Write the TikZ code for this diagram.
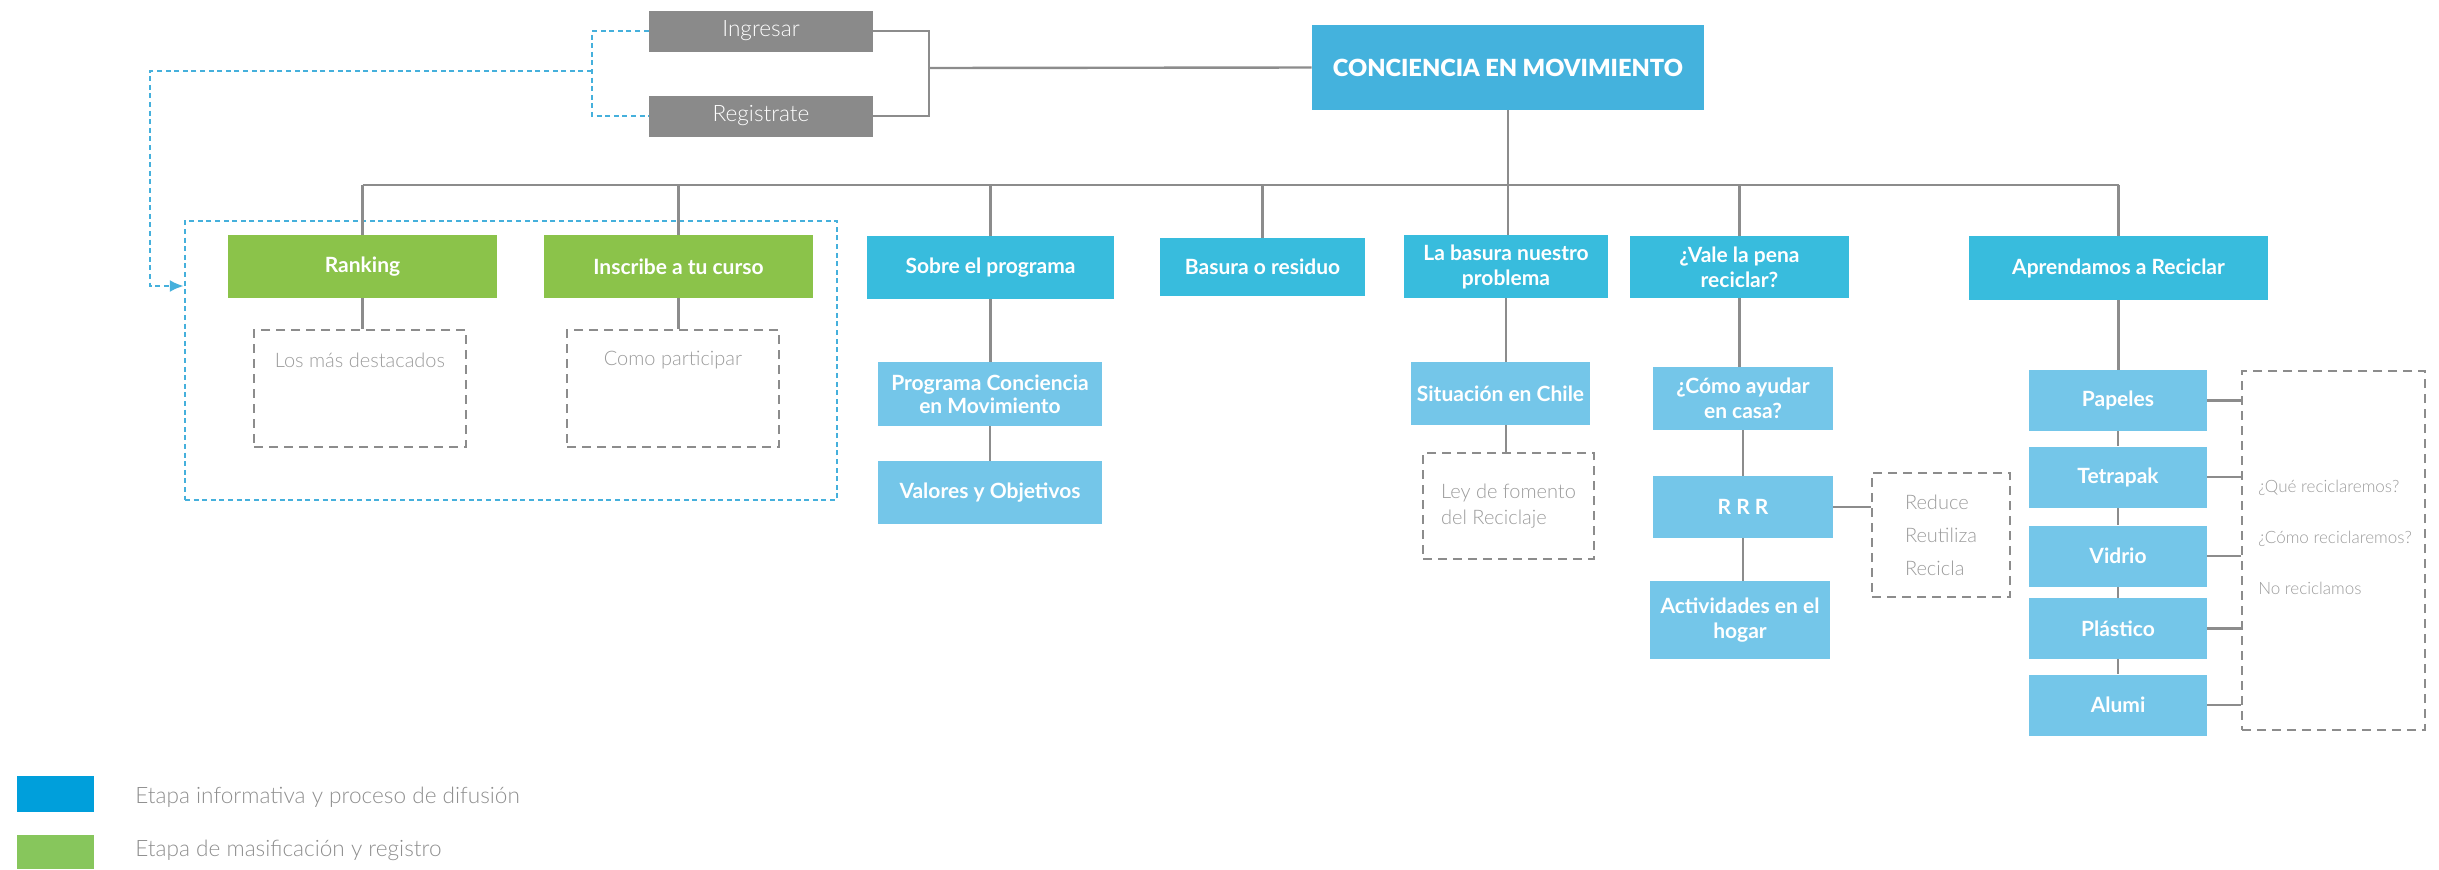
\documentclass[tikz,border=0pt]{standalone}
\usepackage{fontspec}
\setmainfont{Lato}
\newfontfamily\lightfont{Lato Light}
\newfontfamily\blackfont{Lato Black}
\usetikzlibrary{arrows.meta}
\definecolor{topblue}{HTML}{44B2DD}
\definecolor{midblue}{HTML}{38BCDD}
\definecolor{lightblue}{HTML}{74C6E9}
\definecolor{boxgreen}{HTML}{8BC34A}
\definecolor{boxgray}{HTML}{8A8A8A}
\definecolor{linegray}{HTML}{8C8C8C}
\definecolor{dashgray}{HTML}{8C8C8C}
\definecolor{dashblue}{HTML}{45B0DC}
\definecolor{txtgray}{HTML}{9B9B9B}
\definecolor{legtxt}{HTML}{8E8E8E}
\definecolor{legblue}{HTML}{009FDB}
\definecolor{leggreen}{HTML}{87C65C}
\begin{document}
\begin{tikzpicture}[x=0.5pt,y=-0.5pt,
  conn/.style={draw=linegray,line width=1.2pt},
  boxbase/.style={rectangle,inner sep=0pt,text=white,align=center,font=\bfseries\fontsize{10.5}{12.5}\selectfont},
  mainbox/.style={boxbase,fill=midblue},
  subbox/.style={boxbase,fill=lightblue},
  greenbox/.style={boxbase,fill=boxgreen,minimum width=134.5pt,minimum height=31.5pt},
  graybox/.style={rectangle,inner sep=0pt,fill=boxgray,text=white,font=\lightfont\fontsize{11.3}{13}\selectfont,minimum width=112pt,minimum height=20.5pt},
  dashbox/.style={rectangle,draw=dashgray,line width=1pt,dash pattern=on 4.5pt off 3pt,inner sep=0pt,text=txtgray,align=left,font=\lightfont\fontsize{10}{13}\selectfont},
  bluedash/.style={draw=dashblue,line width=1.2pt,dash pattern=on 2.5pt off 1.8pt},
  graytext/.style={text=txtgray,font=\lightfont\fontsize{10}{12}\selectfont,inner sep=0pt,align=left},
  matbox/.style={subbox,minimum width=89pt,minimum height=30.5pt},
]
\useasboundingbox (0,0) rectangle (2439,869);

% top level
\node[graybox] (ingresar) at (761,31) {Ingresar};
\node[graybox] (registrate) at (761,116) {Registrate};
\node[boxbase,fill=topblue,minimum width=196pt,minimum height=42.5pt,font=\blackfont\fontsize{11.8}{13}\selectfont] (conciencia) at (1508,67.5) {CONCIENCIA EN MOVIMIENTO};

% level 2
\node[greenbox] (ranking) at (362.5,266.5) {Ranking};
\node[greenbox] (inscribe) at (678.5,266.5) {Inscribe a tu curso};
\node[mainbox,minimum width=123.5pt,minimum height=31.5pt] (sobre) at (990.5,267.5) {Sobre el programa};
\node[mainbox,minimum width=102.5pt,minimum height=29pt] (basura) at (1262.5,267) {Basura o residuo};
\node[mainbox,minimum width=102pt,minimum height=31.5pt] (labasura) at (1506,266.5) {La basura nuestro\\problema};
\node[mainbox,minimum width=109.5pt,minimum height=31pt] (vale) at (1739.5,267) {¿Vale la pena\\reciclar?};
\node[mainbox,minimum width=149.5pt,minimum height=32pt] (aprendamos) at (2118.5,268) {Aprendamos a Reciclar};

% green children
\node[dashbox,minimum width=106pt,minimum height=58.5pt] (los) at (360,388.5) {};
\node[graytext] (lostxt) at (360,360) {Los más destacados};
\node[dashbox,minimum width=106pt,minimum height=58.5pt] (como) at (673,388.5) {};
\node[graytext] (comotxt) at (673,360) {Como participar};
\node[bluedash,rectangle,minimum width=326pt,minimum height=139.5pt,inner sep=0pt] (bluebox) at (511,360.5) {};

% sobre children
\node[subbox,minimum width=112pt,minimum height=32pt,font=\bfseries\fontsize{10.5}{11.5}\selectfont] (programa) at (990,394) {Programa Conciencia\\en Movimiento};
\node[subbox,minimum width=112pt,minimum height=31.5pt] (valores) at (990,492.5) {Valores y Objetivos};

% la basura children
\node[subbox,minimum width=89.5pt,minimum height=31.5pt] (situacion) at (1500.5,393.5) {Situación en Chile};
\node[dashbox,minimum width=85.5pt,minimum height=53pt] (ley) at (1508.5,506) {Ley de fomento\\del Reciclaje};

% vale children
\node[subbox,minimum width=90pt,minimum height=31.5pt] (comoayudar) at (1743,398.5) {¿Cómo ayudar\\en casa?};
\node[subbox,minimum width=90pt,minimum height=31pt] (rrr) at (1743,507) {R R R};
\node[subbox,minimum width=90pt,minimum height=39pt] (actividades) at (1740,620) {Actividades en el\\hogar};
\node[dashbox,minimum width=69pt,minimum height=62pt,font=\lightfont\fontsize{10}{16.5}\selectfont] (reduce) at (1941,535) {Reduce\\Reutiliza\\Recicla};

% aprendamos children
\node[matbox] (papeles) at (2118,400.5) {Papeles};
\node[matbox] (tetrapak) at (2118,477) {Tetrapak};
\node[matbox] (vidrio) at (2118,556) {Vidrio};
\node[matbox] (plastico) at (2118,628.5) {Plástico};
\node[matbox] (alumi) at (2118,705) {Alumi};
\node[dashbox,minimum width=91.5pt,minimum height=179.5pt] (recbox) at (2333.5,550.5) {};
\node[graytext,font=\lightfont\fontsize{8.5}{25.5}\selectfont] (rectxt) at (2335,537) {¿Qué reciclaremos?\\¿Cómo reciclaremos?\\No reciclamos};

% connectors top
\coordinate (brk) at (929,68);
\draw[conn] (ingresar.east) -| (brk) |- (registrate.east);
\draw[conn] (brk) -- (conciencia.west);
\coordinate (busL) at (362.5,185);
\coordinate (busR) at (2118.5,185);
\draw[conn] (busL) -- (busR);
\draw[conn] (conciencia.south) -- (conciencia.south |- labasura.north);
\foreach \n in {ranking,inscribe,sobre,basura,vale,aprendamos}
  \draw[conn] (\n.north) -- (\n.north |- busL);

% connectors lower
\draw[conn] (ranking.south) -- (ranking.south |- los.north);
\draw[conn] (inscribe.south) -- (inscribe.south |- como.north);
\draw[conn] (sobre.south) -- (sobre.south |- programa.north);
\draw[conn] (programa.south) -- (programa.south |- valores.north);
\draw[conn] (labasura.south) -- (labasura.south |- situacion.north);
\draw[conn] (labasura.south |- situacion.south) -- (labasura.south |- ley.north);
\draw[conn] (vale.south) -- (vale.south |- comoayudar.north);
\draw[conn] (comoayudar.south) -- (comoayudar.south |- rrr.north);
\draw[conn] (rrr.south) -- (rrr.south |- actividades.north);
\draw[conn] (rrr.east) -- (rrr.east -| reduce.west);
\draw[conn] (aprendamos.south) -- (aprendamos.south |- papeles.north);
\draw[conn] (papeles.south) -- (tetrapak.north);
\draw[conn] (tetrapak.south) -- (vidrio.north);
\draw[conn] (vidrio.south) -- (plastico.north);
\draw[conn] (plastico.south) -- (alumi.north);
\foreach \n in {papeles,tetrapak,vidrio,plastico,alumi}
  \draw[conn] (\n.east) -- (\n.east -| recbox.west);

% blue dashed link
\coordinate (bl) at (592,71);
\coordinate (bturn) at (150,286);
\draw[bluedash] (ingresar.west) -| (bl) |- (registrate.west);
\draw[bluedash,-{Latex[length=7pt,width=6pt]}] (bl) -| (bturn) -- (bluebox.west |- bturn);

% legend
\node[rectangle,fill=legblue,minimum width=38.5pt,minimum height=18pt,inner sep=0pt] (legb) at (55.5,794) {};
\node[rectangle,fill=leggreen,minimum width=38.5pt,minimum height=17pt,inner sep=0pt] (legg) at (55.5,852) {};
\node[graytext,anchor=west,text=legtxt,font=\lightfont\fontsize{11.3}{13}\selectfont] (legbt) at (135,797) {Etapa informativa y proceso de difusión};
\node[graytext,anchor=west,text=legtxt,font=\lightfont\fontsize{11.3}{13}\selectfont] (leggt) at (135,850) {Etapa de masificación y registro};
\end{tikzpicture}
\end{document}
